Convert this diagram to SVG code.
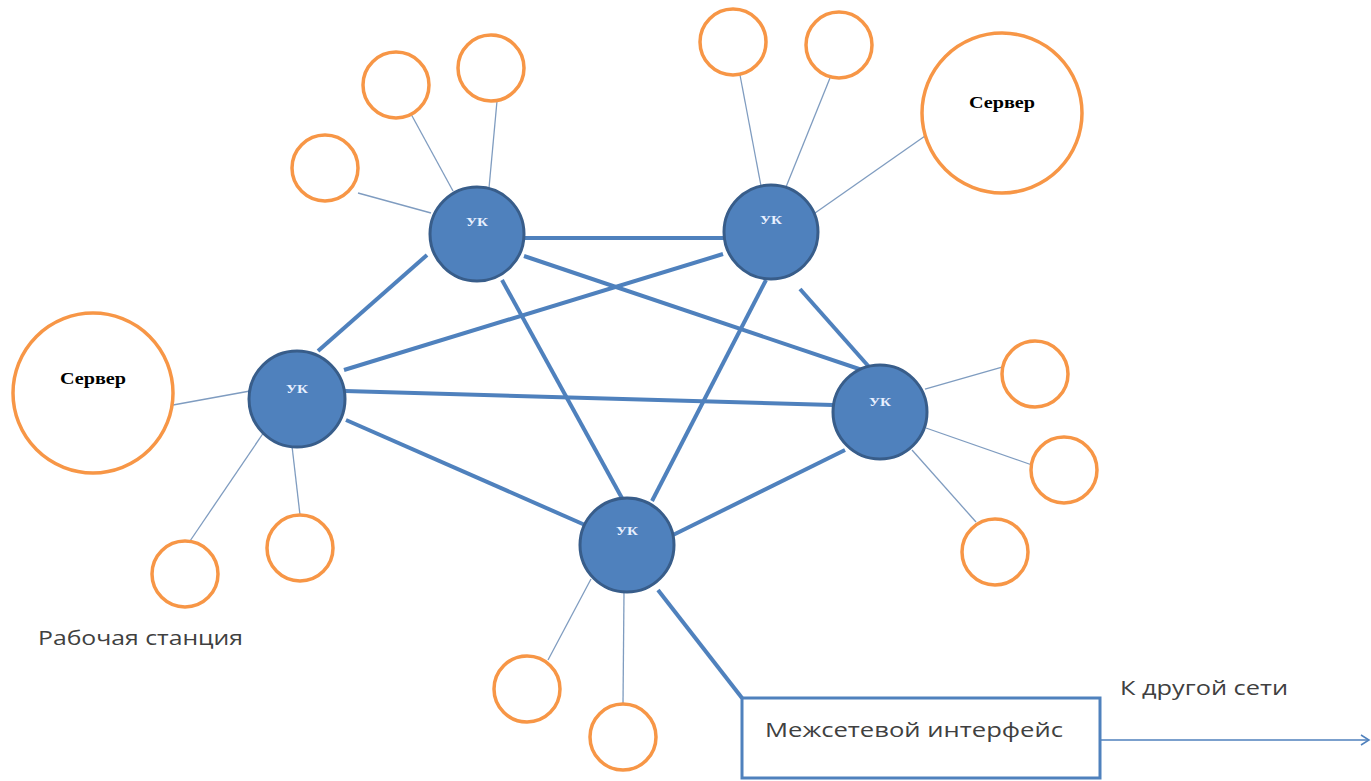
<svg xmlns="http://www.w3.org/2000/svg" width="1371" height="781" viewBox="0 0 1371 781">
<defs>
<style>
.ws{fill:#fff;stroke:#f79646;stroke-width:3.5}
.uk{fill:#4f81bd;stroke:#385d8a;stroke-width:3}
.thin{stroke:#7f9cc0;stroke-width:1.3;fill:none}
.thick{stroke:#4f81bd;stroke-width:4;fill:none}
.ukt{font-family:"Liberation Serif",serif;font-weight:bold;font-size:13px;fill:#e8f0ff;text-anchor:middle}
.srv{font-family:"Liberation Serif",serif;font-weight:bold;font-size:17px;fill:#000;text-anchor:middle}
.lbl{font-family:"Open Sans","Liberation Sans",sans-serif;font-size:20px;fill:#404040}
</style>
<marker id="arr" markerWidth="12" markerHeight="12" refX="10" refY="6" orient="auto" markerUnits="userSpaceOnUse">
<path d="M2,1 L10,6 L2,11" fill="none" stroke="#4f81bd" stroke-width="1.5"/>
</marker>
</defs>
<rect width="1371" height="781" fill="#fff"/>
<g id="connectors">
<line class="thin" x1="358" y1="193" x2="431" y2="213"/>
<line class="thin" x1="411" y1="114" x2="453" y2="191"/>
<line class="thin" x1="497" y1="101" x2="489" y2="188"/>
<line class="thin" x1="740" y1="75" x2="761" y2="186"/>
<line class="thin" x1="830" y1="78" x2="786" y2="187"/>
<line class="thin" x1="925" y1="136" x2="815" y2="213"/>
<line class="thin" x1="173" y1="405" x2="250" y2="391"/>
<line class="thin" x1="190" y1="541" x2="264" y2="432"/>
<line class="thin" x1="300" y1="515" x2="292" y2="446"/>
<line class="thin" x1="1002" y1="367" x2="925" y2="389"/>
<line class="thin" x1="1032" y1="465" x2="926" y2="428"/>
<line class="thin" x1="976" y1="522" x2="912" y2="450"/>
<line class="thin" x1="548" y1="660" x2="591" y2="579"/>
<line class="thin" x1="623" y1="704" x2="624" y2="592"/>
<line class="thick" x1="524" y1="238" x2="724" y2="238"/>
<line class="thick" x1="427" y1="255" x2="318" y2="351"/>
<line class="thick" x1="524" y1="256" x2="868" y2="372"/>
<line class="thick" x1="502" y1="280" x2="623" y2="500"/>
<line class="thick" x1="723" y1="254" x2="344" y2="370"/>
<line class="thick" x1="800" y1="289" x2="870" y2="368"/>
<line class="thick" x1="766" y1="280" x2="652" y2="501"/>
<line class="thick" x1="345" y1="391" x2="833" y2="405"/>
<line class="thick" x1="346" y1="420" x2="585" y2="525"/>
<line class="thick" x1="845" y1="450" x2="673" y2="535"/>
<line class="thick" x1="658" y1="590" x2="742" y2="698"/>
<line x1="1100" y1="740" x2="1369" y2="740" stroke="#4f81bd" stroke-width="1.5" marker-end="url(#arr)"/>
</g>
<g id="ws1"><circle class="ws" cx="325" cy="168" r="33"/></g>
<g id="ws2"><circle class="ws" cx="396" cy="85" r="33"/></g>
<g id="ws3"><circle class="ws" cx="491" cy="68" r="33"/></g>
<g id="ws4"><circle class="ws" cx="733" cy="42" r="33"/></g>
<g id="ws5"><circle class="ws" cx="839" cy="45" r="33"/></g>
<g id="ws6"><circle class="ws" cx="1035" cy="374" r="33"/></g>
<g id="ws7"><circle class="ws" cx="1064" cy="470" r="33"/></g>
<g id="ws8"><circle class="ws" cx="995" cy="552" r="33"/></g>
<g id="ws9"><circle class="ws" cx="185" cy="574" r="33"/></g>
<g id="ws10"><circle class="ws" cx="300" cy="548" r="33"/></g>
<g id="ws11"><circle class="ws" cx="527" cy="689" r="33"/></g>
<g id="ws12"><circle class="ws" cx="623" cy="737" r="33"/></g>
<g id="server1"><circle class="ws" cx="93" cy="393" r="80"/><text class="srv" x="93" y="384" textLength="66" lengthAdjust="spacingAndGlyphs">Сервер</text></g>
<g id="server2"><circle class="ws" cx="1002" cy="113" r="80"/><text class="srv" x="1002" y="108" textLength="66" lengthAdjust="spacingAndGlyphs">Сервер</text></g>
<g id="uk1"><circle class="uk" cx="477" cy="234" r="47"/><text class="ukt" x="477" y="226" textLength="22" lengthAdjust="spacingAndGlyphs">УК</text></g>
<g id="uk2"><circle class="uk" cx="771" cy="232" r="47"/><text class="ukt" x="771" y="224" textLength="22" lengthAdjust="spacingAndGlyphs">УК</text></g>
<g id="uk3"><circle class="uk" cx="297" cy="399" r="48"/><text class="ukt" x="297" y="393" textLength="22" lengthAdjust="spacingAndGlyphs">УК</text></g>
<g id="uk4"><circle class="uk" cx="880" cy="412" r="47"/><text class="ukt" x="880" y="406" textLength="22" lengthAdjust="spacingAndGlyphs">УК</text></g>
<g id="uk5"><circle class="uk" cx="627" cy="545" r="47"/><text class="ukt" x="627" y="535" textLength="22" lengthAdjust="spacingAndGlyphs">УК</text></g>
<g id="gateway"><rect x="742" y="698" width="358" height="80" fill="#fff" stroke="#4f81bd" stroke-width="3"/><text class="lbl" x="765" y="737" textLength="298" lengthAdjust="spacingAndGlyphs" fill="#222">Межсетевой интерфейс</text></g>
<g id="labels">
<text class="lbl" x="38" y="645" textLength="205" lengthAdjust="spacingAndGlyphs">Рабочая станция</text>
<text class="lbl" x="1120" y="695" textLength="168" lengthAdjust="spacingAndGlyphs">К другой сети</text>
</g>
</svg>
